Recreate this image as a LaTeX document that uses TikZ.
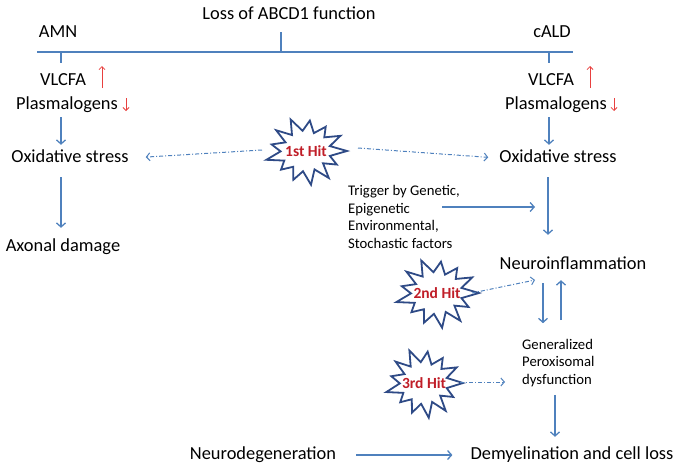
\documentclass[tikz,border=0pt]{standalone}
\usepackage{fontspec}
\setmainfont{Carlito}
\usetikzlibrary{arrows.meta}
\definecolor{lblue}{RGB}{79,129,189}
\definecolor{sblue}{RGB}{46,74,134}
\definecolor{hred}{RGB}{192,30,40}
\definecolor{ured}{RGB}{232,64,63}
\tikzset{
  big/.style={font=\fontsize{18.4}{20}\selectfont, inner sep=2pt, text height=12.5pt, text depth=3.5pt},
  small/.style={font=\fontsize{14.7}{17.7}\selectfont, inner sep=2pt, align=left},
  mainline/.style={draw=lblue, line width=2.4pt},
  arr/.style={draw=lblue, line width=1.3pt, -{Straight Barb[length=4pt,width=9pt]}},
  darr/.style={draw=lblue, line width=1pt, dash pattern=on 4pt off 2pt on 1pt off 2pt, -{Straight Barb[length=3.5pt,width=8pt]}},
  rarr/.style={draw=ured, line width=0.8pt, -{Straight Barb[length=3pt,width=6pt]}},
  burstline/.style={draw=sblue, line width=1.8pt, line join=miter, fill=white},
  hittext/.style={font=\fontsize{15.5}{17}\bfseries\selectfont, text=hred, inner sep=1pt}
}
\newcommand\burst[6]{%
  \begin{scope}[shift={(#2,#3)}, xscale=#4, yscale=#5]
    \draw[burstline] (0:1) -- (14:.6) -- (28:.85) -- (41:.55) -- (55:.97) -- (69:.58)
      -- (83:1) -- (97:.6) -- (110:.9) -- (124:.56) -- (138:.82) -- (152:.6)
      -- (165:1) -- (179:.62) -- (193:.86) -- (207:.56) -- (220:.95) -- (234:.58)
      -- (248:1) -- (262:.6) -- (276:.9) -- (290:.56) -- (304:.86) -- (318:.6)
      -- (332:.95) -- (346:.6) -- cycle;
  \end{scope}
  \node[hittext] (#1) at (#2,#3) {#6};}
\begin{document}
\begin{tikzpicture}[x=1pt,y=-1pt]
\useasboundingbox (0,0) rectangle (682,469);
% top line
\coordinate (Lend) at (37,52);
\coordinate (Rend) at (573,52);
\coordinate (t0) at (281,52);
\coordinate (t1) at (61,52);
\coordinate (t2) at (549,52);
\node[big] (loss) at (289,15) {Loss of ABCD1 function};
\draw[mainline] (Lend) -- (Rend);
\draw[mainline] (t0) -- ++(0,-20);
\draw[mainline] (t1) -- ++(0,11);
\draw[mainline] (t2) -- ++(0,11);
\node[big] (amn) at (58,33) {AMN};
\node[big] (cald) at (552,33) {cALD};
% left column
\node[big] (vl1) at (63,81) {VLCFA};
\node[big] (pl1) at (67,105) {Plasmalogens};
\coordinate (ru1a) at (102,88); \coordinate (ru1b) at (102,66);
\draw[rarr] (ru1a) -- (ru1b);
\coordinate (rd1a) at (126,98); \coordinate (rd1b) at (126,111);
\draw[rarr] (rd1a) -- (rd1b);
\node[big] (ox1) at (70,158) {Oxidative stress};
\node[big] (ax) at (63,247) {Axonal damage};
\draw[arr, shorten <=2pt, shorten >=3pt] (t1 |- pl1.south) -- (t1 |- ox1.north);
\draw[arr, shorten <=9pt, shorten >=9pt] (t1 |- ox1.south) -- (t1 |- ax.north);
% right column
\node[big] (vl2) at (551,81) {VLCFA};
\node[big] (pl2) at (556,105) {Plasmalogens};
\coordinate (ru2a) at (590,88); \coordinate (ru2b) at (590,66);
\draw[rarr] (ru2a) -- (ru2b);
\coordinate (rd2a) at (614,98); \coordinate (rd2b) at (614,111);
\draw[rarr] (rd2a) -- (rd2b);
\node[big] (ox2) at (558,158) {Oxidative stress};
\draw[arr, shorten <=2pt, shorten >=3pt] (t2 |- pl2.south) -- (t2 |- ox2.north);
\node[big] (ni) at (573,265) {Neuroinflammation};
\coordinate (c548) at (548,52);
\draw[arr, shorten <=9pt, shorten >=20pt] (c548 |- ox2.south) -- (c548 |- ni.north);
\node[small, anchor=north west] (trig) at (346,183) {Trigger by Genetic,\\Epigenetic\\Environmental,\\Stochastic factors};
\coordinate (trA) at (442,207);
\coordinate (trB) at (535,207);
\draw[arr] (trA) -- (trB);
\node[small, anchor=west, font=\fontsize{14.7}{17.5}\selectfont] (gpd) at (520,363) {Generalized\\Peroxisomal\\dysfunction};
\draw[arr] ([xshift=-30pt,yshift=-8pt]ni.south) -- ([xshift=-30pt,yshift=-48pt]ni.south);
\draw[arr] ([xshift=-12pt,yshift=-45pt]ni.south) -- ([xshift=-12pt,yshift=-5pt]ni.south);
\node[big] (demy) at (572,455) {Demyelination and cell loss};
\node[big] (neurod) at (263,455) {Neurodegeneration};
\coordinate (c555) at (555,52);
\draw[arr, shorten <=6pt, shorten >=8pt] (c555 |- gpd.south) -- (c555 |- demy.north);
\draw[arr, shorten <=18pt, shorten >=16pt] (neurod.east) -- (demy.west);
% hits
\burst{h1}{306}{151}{41}{34}{1st Hit}
\burst{h2}{437}{293}{42}{35}{2nd Hit}
\burst{h3}{424}{383}{39}{35}{3rd Hit}
\coordinate (h1w) at (262,150);
\coordinate (h1e) at (358,148);
\draw[darr, shorten >=15pt] (h1w) -- (ox1.east);
\draw[darr, shorten >=9pt] (h1e) -- (ox2.west);
\coordinate (h2e) at (472,293);
\coordinate (h2t) at (535,280);
\draw[darr] (h2e) -- (h2t);
\coordinate (h3e) at (460,382);
\draw[darr, shorten >=15pt] (h3e) -- (gpd.west |- h3e);
\end{tikzpicture}
\end{document}
